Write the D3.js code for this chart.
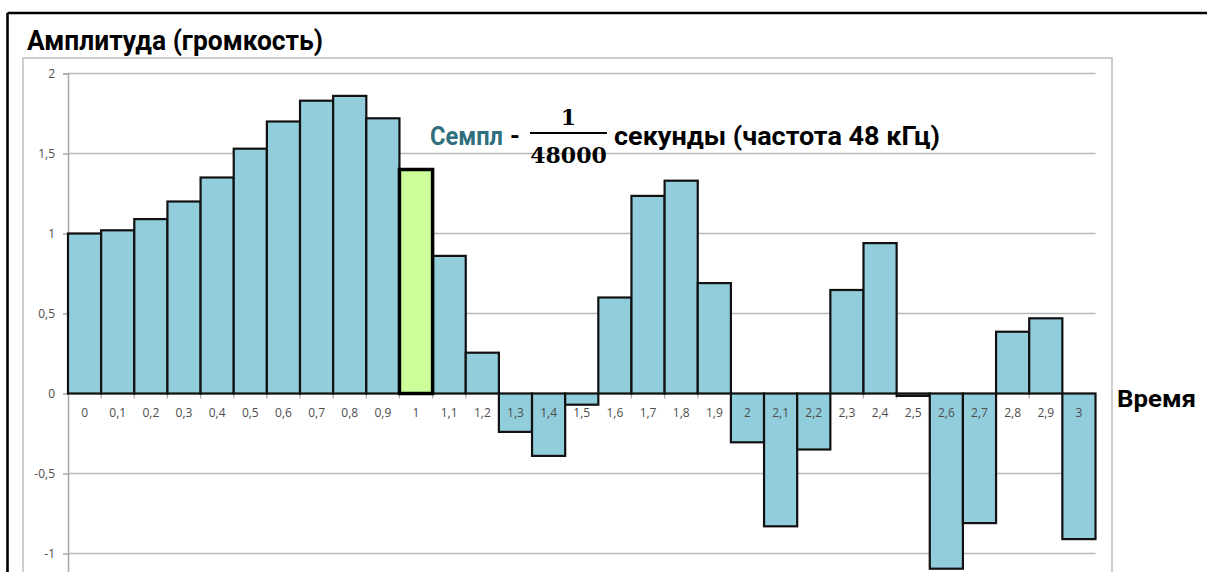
<!DOCTYPE html>
<html>
<head>
<meta charset="utf-8">
<script src="https://cdn.jsdelivr.net/npm/d3@7"></script>
<style>
  html, body { margin: 0; padding: 0; background: #fff; overflow: hidden; }
  svg { display: block; }
</style>
</head>
<body>
<svg id="chart" width="1207" height="572"></svg>
<script>
// Time points (seconds, decimal comma) and sampled amplitude at each point
const categories = ["0","0,1","0,2","0,3","0,4","0,5","0,6","0,7","0,8","0,9",
                    "1","1,1","1,2","1,3","1,4","1,5","1,6","1,7","1,8","1,9",
                    "2","2,1","2,2","2,3","2,4","2,5","2,6","2,7","2,8","2,9","3"];
const amplitudes = [1.0, 1.02, 1.09, 1.2, 1.35, 1.53, 1.7, 1.83, 1.86, 1.72,
                    1.4, 0.86, 0.255, -0.24, -0.39, -0.07, 0.6, 1.235, 1.33, 0.69,
                    -0.305, -0.83, -0.35, 0.647, 0.94, -0.015, -1.095, -0.81, 0.386, 0.47, -0.91];
const yTicks = [-1, -0.5, 0, 0.5, 1, 1.5, 2];
const highlighted = "1";

const data = categories.map((c, i) => ({ t: c, v: amplitudes[i] }));
const fmt = v => String(v).replace(".", ",");

const svg = d3.select("#chart");

const x = d3.scaleBand().domain(categories).range([68, 1095.5]).paddingInner(0).paddingOuter(0);
const y = d3.scaleLinear().domain([-1.5, 2]).range([633.5, 73.5]);

// outer black frame (top and left edges)
svg.append("line").attr("x1", 7.5).attr("x2", 1207).attr("y1", 13).attr("y2", 13)
  .attr("stroke", "#000").attr("stroke-width", 2.6);
svg.append("line").attr("x1", 7.5).attr("x2", 7.5).attr("y1", 13).attr("y2", 572)
  .attr("stroke", "#000").attr("stroke-width", 2.6);

// light chart-area frame
svg.append("rect").attr("x", 23).attr("y", 58).attr("width", 1089).attr("height", 600)
  .attr("fill", "none").attr("stroke", "#bdbdbd").attr("stroke-width", 1.5);

// horizontal gridlines
svg.append("g").selectAll("line")
  .data(yTicks.filter(d => d !== 0))
  .join("line")
  .attr("x1", 68).attr("x2", 1095.5)
  .attr("y1", d => y(d)).attr("y2", d => y(d))
  .attr("stroke", "#b8b8b8").attr("stroke-width", 1.5);

// y axis
const yAxis = svg.append("g").attr("transform", "translate(68,0)")
  .call(d3.axisLeft(y).tickValues(yTicks).tickSize(5).tickPadding(8).tickFormat(fmt));
yAxis.select(".domain").attr("stroke", "#a8a8a8").attr("stroke-width", 1.5);
yAxis.selectAll(".tick line").attr("stroke", "#a8a8a8").attr("stroke-width", 1.5);
yAxis.selectAll(".tick text").attr("fill", "#4d4d4d").style("font-family", "'Open Sans', sans-serif")
  .style("font-size", "12px");

// zero line
svg.append("line").attr("x1", 68).attr("x2", 1095.5).attr("y1", y(0)).attr("y2", y(0))
  .attr("stroke", "#a8a8a8").attr("stroke-width", 1.5);

// small ticks on band boundaries
svg.append("g").selectAll("line")
  .data(categories.slice(1))
  .join("line")
  .attr("x1", d => x(d)).attr("x2", d => x(d))
  .attr("y1", y(0)).attr("y2", y(0) + 5)
  .attr("stroke", "#a8a8a8").attr("stroke-width", 1.2);

// bars
const bars = svg.append("g");
bars.selectAll("rect")
  .data(data.filter(d => d.t !== highlighted))
  .join("rect")
  .attr("x", d => x(d.t))
  .attr("width", x.bandwidth())
  .attr("y", d => y(Math.max(0, d.v)))
  .attr("height", d => Math.abs(y(d.v) - y(0)))
  .attr("fill", "#92cddc")
  .attr("stroke", "#111")
  .attr("stroke-width", 2.2);

// highlighted sample
bars.append("g").selectAll("rect")
  .data(data.filter(d => d.t === highlighted))
  .join("rect")
  .attr("x", d => x(d.t))
  .attr("width", x.bandwidth())
  .attr("y", d => y(Math.max(0, d.v)))
  .attr("height", d => Math.abs(y(d.v) - y(0)))
  .attr("fill", "#ccff99")
  .attr("stroke", "#000")
  .attr("stroke-width", 3.5);

// x axis labels
const xAxis = svg.append("g").attr("transform", `translate(0,${y(0)})`)
  .call(d3.axisBottom(x).tickSize(0).tickPadding(15));
xAxis.select(".domain").remove();
xAxis.selectAll(".tick text").attr("fill", "#4d4d4d").style("font-family", "'Open Sans', sans-serif")
  .style("font-size", "12px");

// titles
svg.append("text").attr("x", 27).attr("y", 50)
  .style("font-family", "Roboto, sans-serif").style("font-weight", 700).style("font-size", "27px")
  .attr("fill", "#000").attr("textLength", 296).attr("lengthAdjust", "spacingAndGlyphs")
  .text("Амплитуда (громкость)");

svg.append("text").attr("x", 1117).attr("y", 407)
  .style("font-family", "Roboto, sans-serif").style("font-weight", 700).style("font-size", "24px")
  .attr("fill", "#000").attr("textLength", 79).attr("lengthAdjust", "spacingAndGlyphs")
  .text("Время");

// sample annotation
const ann = svg.append("g").style("font-family", "Roboto, sans-serif").style("font-weight", 700)
  .style("font-size", "25px");
ann.append("text").attr("x", 430).attr("y", 145).attr("fill", "#2f6f7e")
  .attr("textLength", 73).attr("lengthAdjust", "spacingAndGlyphs").text("Семпл");
ann.append("text").attr("x", 510).attr("y", 145).attr("fill", "#000").text("-");
ann.append("text").attr("x", 614).attr("y", 145).attr("fill", "#000")
  .attr("textLength", 326).attr("lengthAdjust", "spacingAndGlyphs").text("секунды (частота 48 кГц)");

const frac = svg.append("g").style("font-family", "'DejaVu Serif', serif").style("font-weight", 700)
  .style("font-size", "22px").attr("text-anchor", "middle").attr("fill", "#000");
frac.append("text").attr("x", 568.5).attr("y", 125).text("1");
frac.append("line").attr("x1", 530).attr("x2", 607).attr("y1", 133).attr("y2", 133)
  .attr("stroke", "#000").attr("stroke-width", 2);
frac.append("text").attr("x", 568.5).attr("y", 163).text("48000");
</script>
</body>
</html>
